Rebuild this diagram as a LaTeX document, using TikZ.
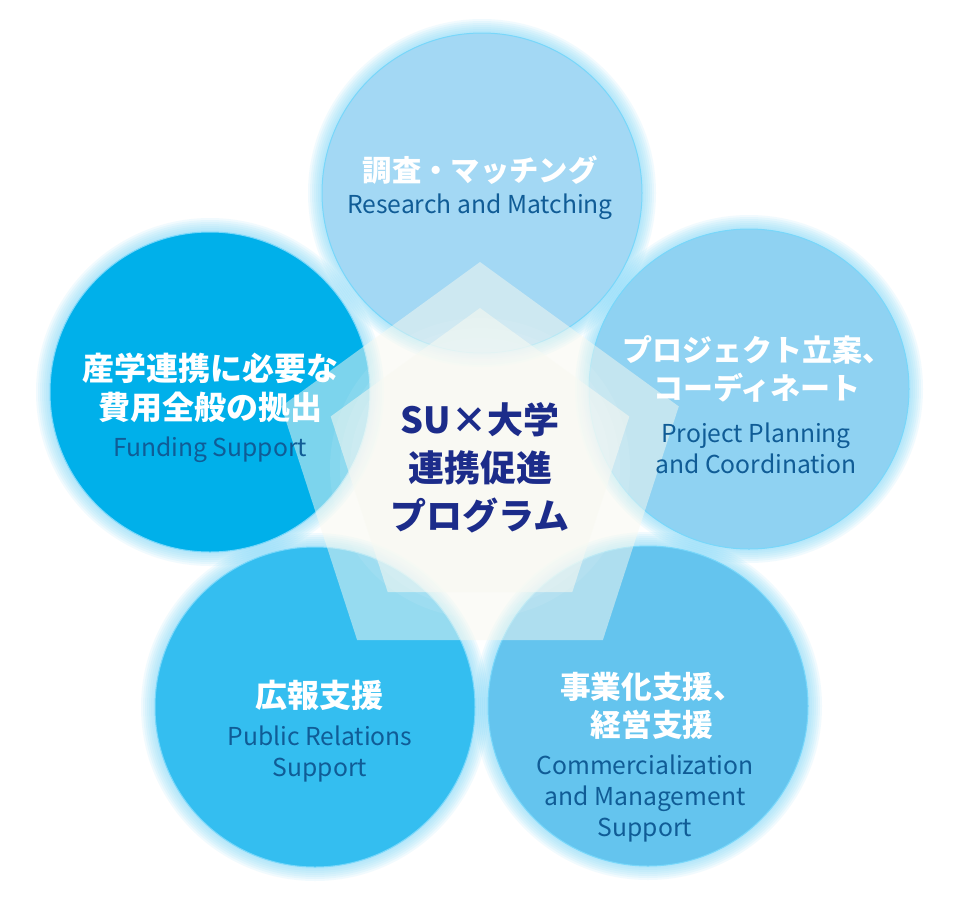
\documentclass[tikz,border=0pt]{standalone}
\usepackage{fontspec}
\setmainfont{Noto Sans CJK JP}
\usepackage{xcolor}
\usepackage{tikz}
\usetikzlibrary{shapes.geometric}
\usetikzlibrary{backgrounds}

\definecolor{resblue}{RGB}{163,216,244}
\definecolor{planblue}{RGB}{143,210,242}
\definecolor{fundblue}{RGB}{0,176,234}
\definecolor{prblue}{RGB}{52,190,240}
\definecolor{bizblue}{RGB}{100,196,238}
\definecolor{halo}{RGB}{120,215,250}
\definecolor{subblue}{RGB}{16,92,150}
\definecolor{navy}{RGB}{28,44,138}
\definecolor{cream}{RGB}{248,249,240}

\begin{document}
\begin{tikzpicture}[
    x=0.75pt,y=-0.75pt, % one unit is one pixel, y runs downwards
    bubble/.style={circle,minimum size=240pt,inner sep=0pt,draw=halo,line width=0.75pt},
    pent/.style={regular polygon,regular polygon sides=5,inner sep=0pt,outer sep=0pt,fill=cream},
    jtitle/.style={text=white,align=center,font=\bfseries\fontsize{24}{29}\selectfont},
    esub/.style={text=subblue,align=center,font=\fontsize{18.5}{23.25}\selectfont},
    hubtext/.style={align=center,font=\bfseries\fontsize{27}{36}\selectfont},
    ]
    \useasboundingbox (0,0) rectangle (960,900);

    % the five fields
    \node (res)  [bubble,fill=resblue]  at (482,193) {};
    \node (plan) [bubble,fill=planblue] at (749,389) {};
    \node (fund) [bubble,fill=fundblue] at (210,392) {};
    \node (pr)   [bubble,fill=prblue]   at (315,707) {};
    \node (biz)  [bubble,fill=bizblue]  at (648,706) {};

    \begin{pgfonlayer}{background}
      \fill[white] (0,0) rectangle (960,900);
      \foreach \n in {res,plan,fund,pr,biz}
        \foreach \k in {1,...,7}
          \fill[halo,opacity=.1] (\n) circle (160+2*\k);
    \end{pgfonlayer}

    % translucent pentagons in the middle
    \node (outerpent) [pent,fill opacity=.5,minimum size=313.5pt]  at (480,471) {};
    \node (innerpent) [pent,fill opacity=.55,minimum size=235.5pt] at (480,465) {};

    \coordinate (hub) at (480,468);
    \foreach \r in {40,50,...,150}
      \fill[white,opacity=.08] (hub) circle (\r);

    % programme name
    \node (prog) [hubtext,text=navy] at (hub) {SU×大学\\連携促進\\プログラム};

    % labels
    \node (resT)  [jtitle,font=\bfseries\fontsize{22}{28}\selectfont] at (480,170) {調査・マッチング};
    \node (resE)  [esub]   at (480,207) {Research and Matching};

    \node (fundT) [jtitle] at (210,388) {産学連携に必要な\\費用全般の拠出};
    \node (fundE) [esub]   at (210,450) {Funding Support};

    \node (planT) [jtitle,font=\bfseries\fontsize{22.5}{28.5}\selectfont] at (757,369) {プロジェクト立案、\\コーディネート};
    \node (planE) [esub]   at (756,448) {Project Planning\\and Coordination};

    \node (prT)   [jtitle] at (319,695) {広報支援};
    \node (prE)   [esub]   at (320,754) {Public Relations\\Support};

    \node (bizT)  [jtitle,font=\bfseries\fontsize{23}{28.5}\selectfont] at (652,706) {事業化支援、\\経営支援};
    \node (bizE)  [esub]   at (645,798) {Commercialization\\and Management\\Support};
\end{tikzpicture}
\end{document}
